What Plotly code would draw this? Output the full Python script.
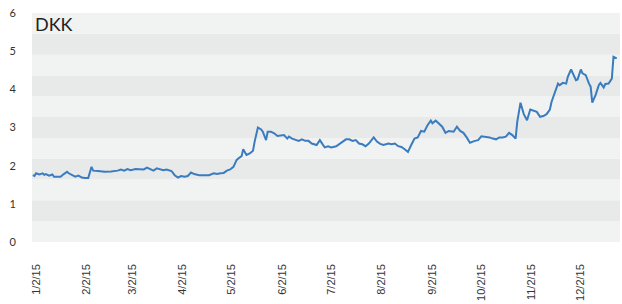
import plotly.graph_objects as go

dates = [
    "2014-12-31", "2015-01-01", "2015-01-02", "2015-01-04", "2015-01-06", "2015-01-07", "2015-01-08",
    "2015-01-10", "2015-01-12", "2015-01-13", "2015-01-14", "2015-01-17", "2015-01-19", "2015-01-21",
    "2015-01-22", "2015-01-24", "2015-01-26", "2015-01-28", "2015-01-30", "2015-02-01", "2015-02-03",
    "2015-02-05", "2015-02-06", "2015-02-09", "2015-02-13", "2015-02-17", "2015-02-21", "2015-02-23",
    "2015-02-25", "2015-02-27", "2015-03-01", "2015-03-04", "2015-03-06", "2015-03-09", "2015-03-11",
    "2015-03-13", "2015-03-15", "2015-03-17", "2015-03-19", "2015-03-21", "2015-03-23", "2015-03-26",
    "2015-03-28", "2015-03-30", "2015-04-01", "2015-04-03", "2015-04-05", "2015-04-07", "2015-04-09",
    "2015-04-12", "2015-04-15", "2015-04-18", "2015-04-21", "2015-04-23", "2015-04-25", "2015-04-27",
    "2015-04-29", "2015-05-01", "2015-05-03", "2015-05-05", "2015-05-06", "2015-05-08", "2015-05-09",
    "2015-05-11", "2015-05-13", "2015-05-15", "2015-05-16", "2015-05-18", "2015-05-20", "2015-05-21",
    "2015-05-23", "2015-05-24", "2015-05-26", "2015-05-28", "2015-05-30", "2015-06-01", "2015-06-03",
    "2015-06-05", "2015-06-06", "2015-06-08", "2015-06-10", "2015-06-12", "2015-06-14", "2015-06-16",
    "2015-06-18", "2015-06-20", "2015-06-23", "2015-06-25", "2015-06-27", "2015-06-28", "2015-06-30",
    "2015-07-02", "2015-07-05", "2015-07-07", "2015-07-09", "2015-07-11", "2015-07-13", "2015-07-15",
    "2015-07-17", "2015-07-19", "2015-07-21", "2015-07-23", "2015-07-25", "2015-07-28", "2015-07-30",
    "2015-08-01", "2015-08-03", "2015-08-06", "2015-08-08", "2015-08-10", "2015-08-12", "2015-08-14",
    "2015-08-16", "2015-08-18", "2015-08-20", "2015-08-22", "2015-08-24", "2015-08-26", "2015-08-28",
    "2015-08-30", "2015-09-01", "2015-09-02", "2015-09-04", "2015-09-06", "2015-09-08", "2015-09-10",
    "2015-09-12", "2015-09-15", "2015-09-17", "2015-09-19", "2015-09-21", "2015-09-23", "2015-09-25",
    "2015-09-28", "2015-09-30", "2015-10-02", "2015-10-05", "2015-10-07", "2015-10-09", "2015-10-11",
    "2015-10-13", "2015-10-15", "2015-10-17", "2015-10-19", "2015-10-21", "2015-10-23", "2015-10-24",
    "2015-10-26", "2015-10-28", "2015-10-30", "2015-11-01", "2015-11-03", "2015-11-05", "2015-11-07",
    "2015-11-09", "2015-11-11", "2015-11-13", "2015-11-14", "2015-11-16", "2015-11-18", "2015-11-19",
    "2015-11-21", "2015-11-23", "2015-11-24", "2015-11-26", "2015-11-27", "2015-11-29", "2015-11-30",
    "2015-12-02", "2015-12-03", "2015-12-05", "2015-12-07", "2015-12-08", "2015-12-09", "2015-12-11",
    "2015-12-13", "2015-12-14", "2015-12-16", "2015-12-17", "2015-12-19", "2015-12-21", "2015-12-22",
    "2015-12-24",
]

dkk = [
    1.75, 1.73, 1.80, 1.77, 1.80, 1.76, 1.78,
    1.74, 1.77, 1.71, 1.71, 1.71, 1.78, 1.84,
    1.80, 1.75, 1.71, 1.74, 1.69, 1.68, 1.68,
    1.97, 1.87, 1.86, 1.84, 1.85, 1.87, 1.90,
    1.87, 1.91, 1.88, 1.91, 1.90, 1.90, 1.95,
    1.90, 1.87, 1.93, 1.90, 1.88, 1.90, 1.86,
    1.75, 1.69, 1.73, 1.71, 1.73, 1.82, 1.78,
    1.75, 1.75, 1.75, 1.80, 1.78, 1.80, 1.81,
    1.87, 1.90, 1.97, 2.15, 2.19, 2.25, 2.43,
    2.28, 2.32, 2.39, 2.63, 3.00, 2.95, 2.89,
    2.67, 2.89, 2.89, 2.85, 2.78, 2.80, 2.80,
    2.71, 2.76, 2.71, 2.69, 2.65, 2.69, 2.65,
    2.65, 2.58, 2.54, 2.67, 2.54, 2.48, 2.51,
    2.48, 2.51, 2.57, 2.63, 2.69, 2.69, 2.65,
    2.67, 2.58, 2.56, 2.51, 2.58, 2.74, 2.63,
    2.57, 2.54, 2.58, 2.56, 2.58, 2.51, 2.49,
    2.43, 2.36, 2.54, 2.71, 2.74, 2.91, 2.89,
    3.06, 3.18, 3.11, 3.18, 3.09, 3.02, 2.86,
    2.91, 2.89, 3.02, 2.91, 2.86, 2.74, 2.60,
    2.65, 2.67, 2.77, 2.76, 2.74, 2.71, 2.69,
    2.74, 2.74, 2.76, 2.86, 2.80, 2.71, 3.15,
    3.65, 3.35, 3.19, 3.47, 3.44, 3.41, 3.28,
    3.30, 3.35, 3.47, 3.67, 3.89, 4.15, 4.11,
    4.17, 4.15, 4.33, 4.52, 4.42, 4.24, 4.26,
    4.52, 4.42, 4.37, 4.15, 4.07, 3.65, 3.85,
    4.11, 4.17, 4.05, 4.14, 4.15, 4.28, 4.85,
    4.81,
]

tick_dates = ["2015-01-02", "2015-02-02", "2015-03-02", "2015-04-02", "2015-05-02", "2015-06-02",
              "2015-07-02", "2015-08-02", "2015-09-02", "2015-10-02", "2015-11-02", "2015-12-02"]
tick_labels = ["1/2/15", "2/2/15", "3/2/15", "4/2/15", "5/2/15", "6/2/15",
               "7/2/15", "8/2/15", "9/2/15", "10/2/15", "11/2/15", "12/2/15"]
y_ticks = [0, 1, 2, 3, 4, 5, 6]
title_text = "DKK"

fig = go.Figure()
fig.add_trace(go.Scatter(x=dates, y=dkk, mode="lines",
                         line=dict(color="#3a7cbf", width=2), showlegend=False))

n_bands = 11
shapes = []
for i in range(n_bands):
    shapes.append(dict(type="rect", xref="paper", yref="paper", x0=0, x1=1,
                       y0=i / n_bands, y1=(i + 1) / n_bands, layer="below", line_width=0,
                       fillcolor="#f1f2f2" if i % 2 == 0 else "#e8e9e9"))

fig.update_layout(
    width=622, height=304,
    margin=dict(l=32, r=2, t=13, b=62, autoexpand=False),
    paper_bgcolor="white", plot_bgcolor="white",
    shapes=shapes,
    hovermode=False,
    font=dict(family="Lato, 'Open Sans', sans-serif", color="#333333"),
    xaxis=dict(type="date", range=["2014-12-30 12:00", "2015-12-26"], automargin=False,
               tickvals=tick_dates, ticktext=tick_labels, tickangle=-90,
               showgrid=False, zeroline=False, showline=False, ticks="",
               ticklabelstandoff=19, ticklabeloverflow="allow",
               tickfont=dict(family="'Liberation Sans', Arial, sans-serif", size=11, color="#333333")),
    yaxis=dict(range=[0, 6], tickvals=y_ticks, showgrid=False, zeroline=False, automargin=False,
               showline=False, ticks="", ticklabelstandoff=15, ticklabeloverflow="allow",
               tickfont=dict(family="Lato, sans-serif", size=11, color="#333333")),
    annotations=[dict(text=title_text, xref="paper", yref="paper", x=0.002, y=1.01,
                      xanchor="left", yanchor="top", showarrow=False,
                      font=dict(family="Lato, sans-serif", size=18, color="#222222"))],
)

fig.write_html(
    "out.html",
    config={"displayModeBar": False, "staticPlot": True},
    post_script="document.body.style.margin='0px';document.body.style.overflow='hidden';",
)
